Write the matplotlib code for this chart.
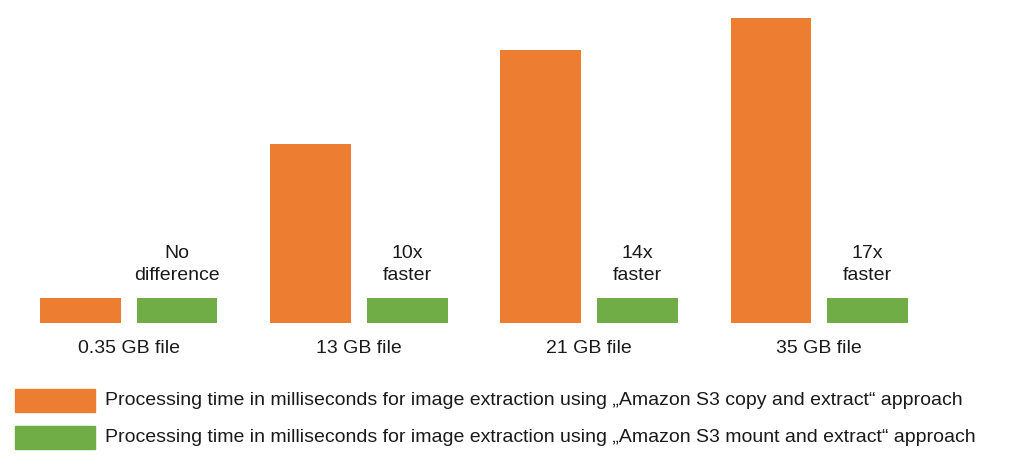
import matplotlib.pyplot as plt
from matplotlib.patches import Rectangle

# Values (relative processing time, arbitrary units)
file_sizes = ["0.35 GB file", "13 GB file", "21 GB file", "35 GB file"]
copy_times = [25, 179, 273, 305]
mount_times = [25, 25, 25, 25]
speedup_notes = ["No\ndifference", "10x\nfaster", "14x\nfaster", "17x\nfaster"]

ORANGE = "#ED7D31"
GREEN = "#70AD47"
TEXT = "#1a1a1a"

W, H = 1024, 466
fig = plt.figure(figsize=(W / 100, H / 100), dpi=100)
plt.rcParams["font.family"] = ["Liberation Sans", "DejaVu Sans"]

# axes from baseline (y=323px) up to top of tallest bar (y=18px)
ax = fig.add_axes([0, (H - 323) / H, 1, (323 - 18) / H])
ax.set_xlim(-0.56, 3.89)
ax.set_ylim(0, max(copy_times))
ax.axis("off")

x = range(len(file_sizes))
off, width = 0.21, 0.35
ax.bar([i - off for i in x], copy_times, width, color=ORANGE)
ax.bar([i + off for i in x], mount_times, width, color=GREEN)

for i, (label, note) in enumerate(zip(file_sizes, speedup_notes)):
    ax.text(i + off, mount_times[i] + 14, note, ha="center", va="bottom",
            fontsize=14, color=TEXT, linespacing=1.35)
    ax.text(i, -17, label, ha="center", va="top", fontsize=14, color=TEXT)

legend = [
    (ORANGE, 389, "Processing time in milliseconds for image extraction using „Amazon S3 copy and extract“ approach"),
    (GREEN, 426, "Processing time in milliseconds for image extraction using „Amazon S3 mount and extract“ approach"),
]
for color, top, text in legend:
    fig.patches.append(Rectangle((15 / W, (H - top - 23) / H), 80 / W, 23 / H,
                                 transform=fig.transFigure, color=color))
    fig.text(105 / W, (H - top - 11.5) / H, text, va="center", ha="left",
             fontsize=14, color=TEXT)

fig.savefig("out.png", dpi=100, facecolor="white")
